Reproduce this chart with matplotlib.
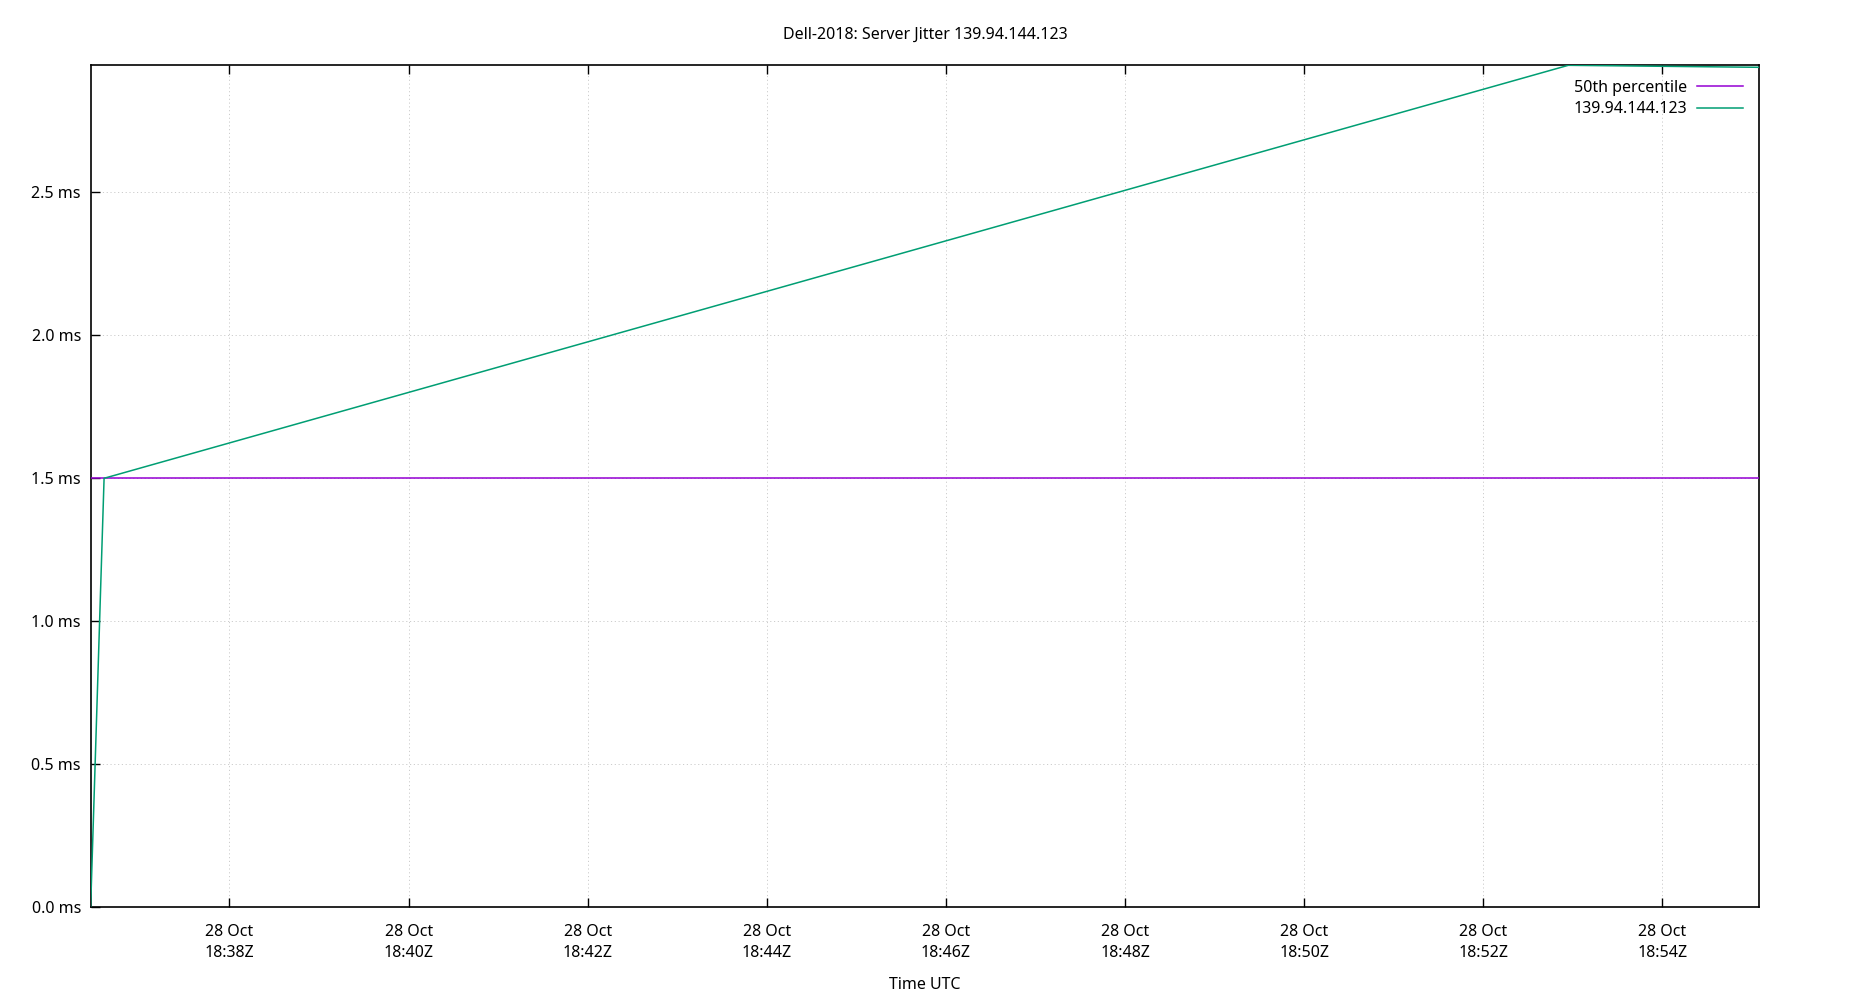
"""
Server jitter plot for one NTP peer, gnuplot style
"""

import matplotlib
matplotlib.use('Agg')
import matplotlib.pyplot as plt
import matplotlib.dates as mdates
from matplotlib.ticker import FuncFormatter
import numpy as np
from datetime import datetime

plt.rcParams['font.family'] = ['Noto Sans', 'DejaVu Sans']
plt.rcParams['font.size'] = 11.5

# data
times = [datetime(2018, 10, 28, 18, 36, 27),
         datetime(2018, 10, 28, 18, 36, 36),
         datetime(2018, 10, 28, 18, 52, 57),
         datetime(2018, 10, 28, 18, 55, 5)]
jitter = [0.0, 1.5, 2.945, 2.938]
p50 = 1.5

t_start = times[0]
t_end = times[-1]

fig = plt.figure(figsize=(18.5, 10), dpi=100)
ax = fig.add_axes([0.049, 0.093, 0.902, 0.8417])

ax.plot([t_start, t_end], [p50, p50], color='#9400d3', linewidth=1.1,
        label='50th percentile', zorder=3)
ax.plot(times, jitter, color='#009e73', linewidth=1.1,
        label='139.94.144.123', zorder=4)

ax.set_xlim(t_start, t_end)
ax.set_ylim(0, max(jitter))

ax.xaxis.set_major_locator(mdates.MinuteLocator(byminute=range(0, 60, 2)))
ax.xaxis.set_major_formatter(mdates.DateFormatter('%d %b\n%H:%MZ'))
ax.set_yticks(np.arange(0, 2.51, 0.5))
ax.yaxis.set_major_formatter(FuncFormatter(lambda v, p: '%.1f ms' % v))

ax.tick_params(axis='x', direction='in', length=6.5, width=1, top=True, pad=12)
ax.tick_params(axis='y', direction='in', length=6.5, width=1, right=False, pad=7)
for lab in ax.get_xticklabels():
    lab.set_linespacing(1.45)
for s in ax.spines.values():
    s.set_linewidth(1.2)

ax.grid(True, color='#cccccc', linestyle=(0, (1.2, 2.7)), linewidth=0.7)
ax.set_axisbelow(True)

ax.set_title('Dell-2018: Server Jitter 139.94.144.123', fontsize=11.5, pad=19)
ax.set_xlabel('Time UTC', fontsize=11.5, labelpad=11.5)

ax.legend(loc='upper right', bbox_to_anchor=(0.999, 1.0), frameon=False,
          markerfirst=False, handlelength=2.9, handletextpad=0.6,
          labelspacing=0.35, fontsize=11.5)

plt.savefig('out.png', dpi=100)
